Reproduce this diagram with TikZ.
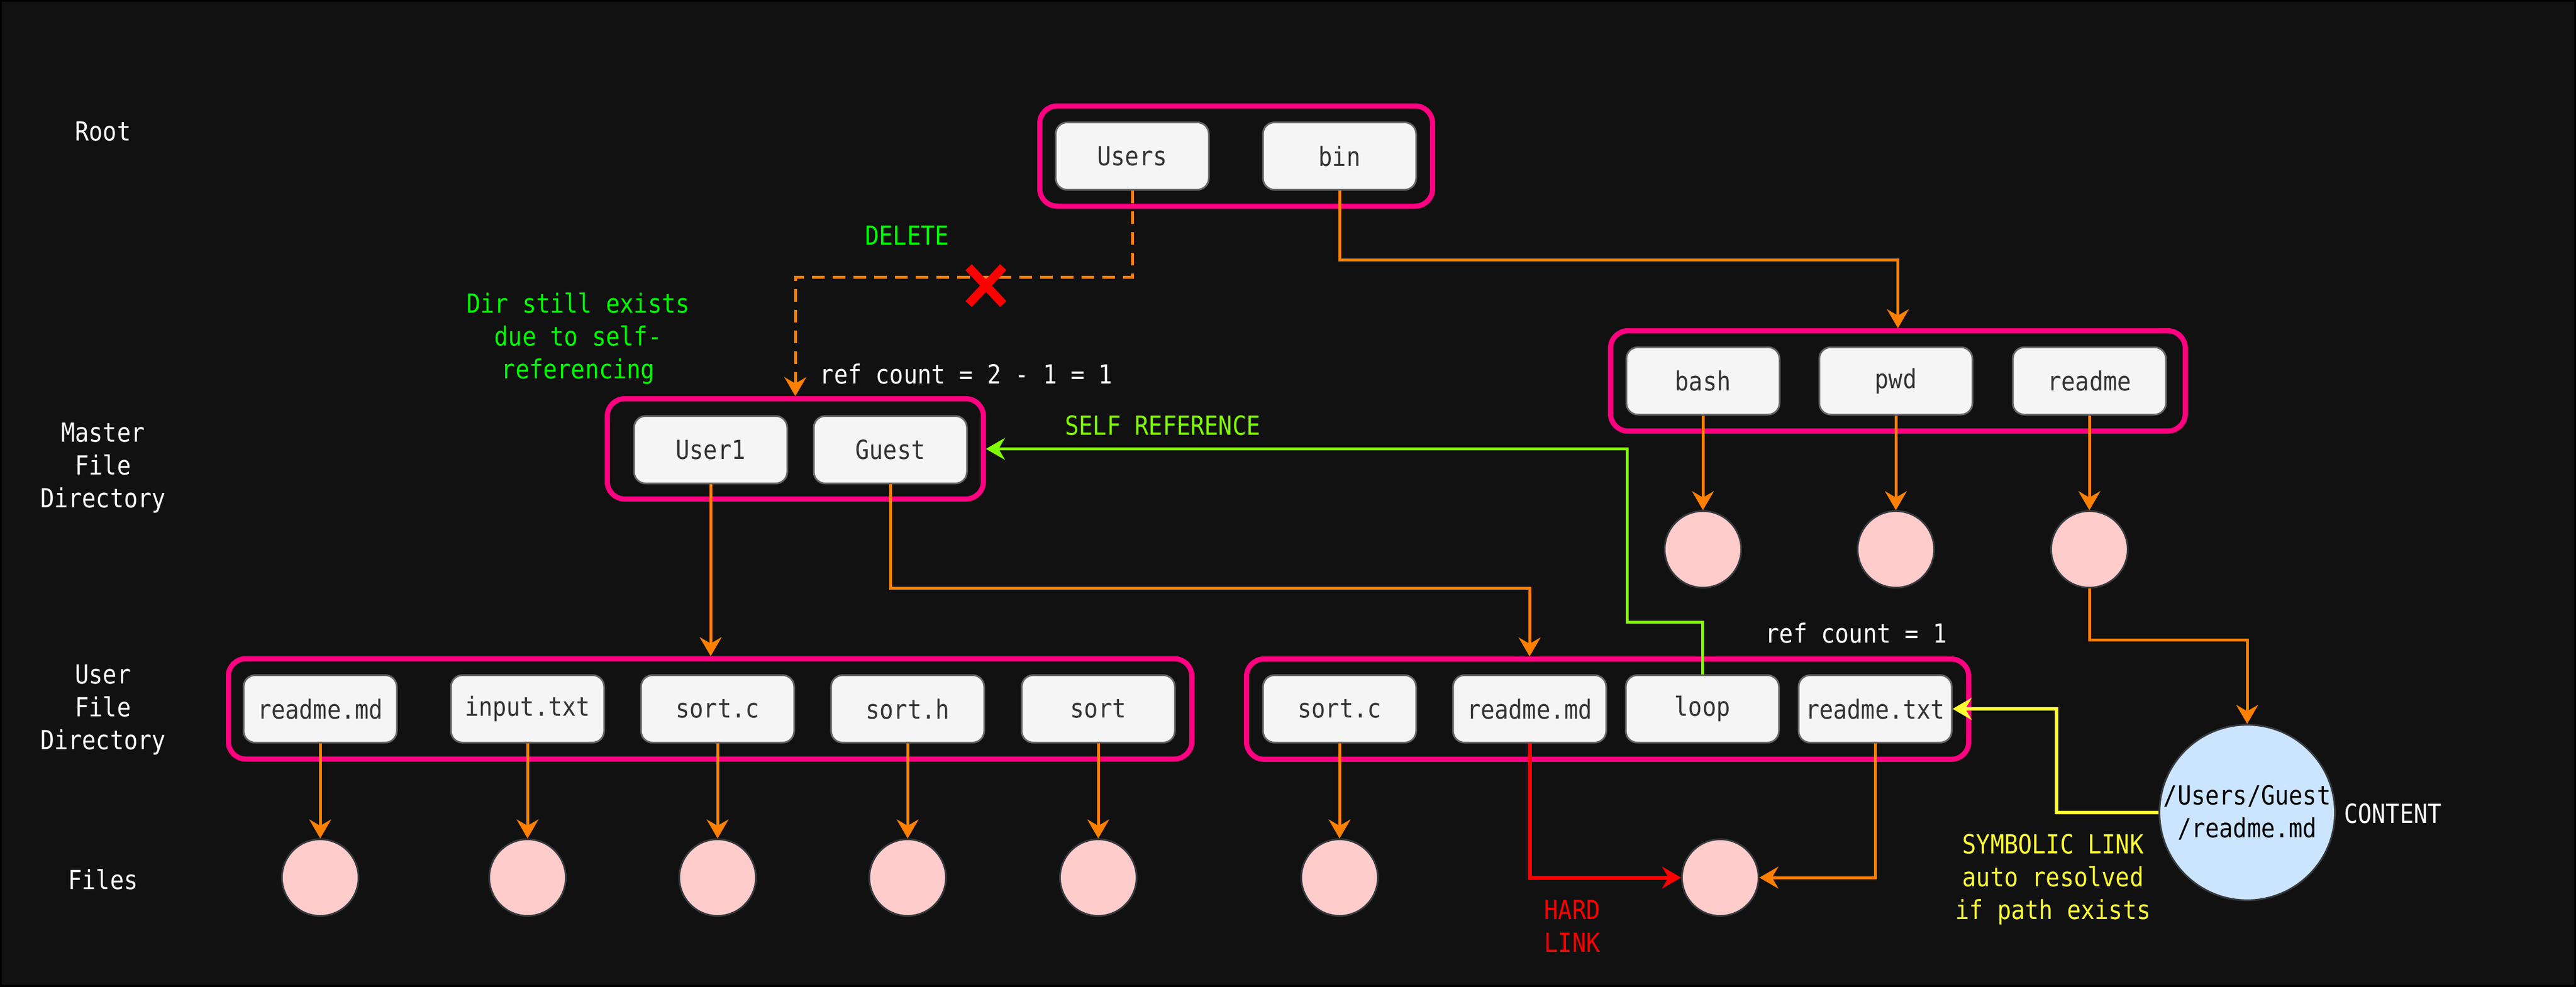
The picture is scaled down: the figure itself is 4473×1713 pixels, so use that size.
\documentclass[tikz,border=0pt]{standalone}
\usepackage{fontspec}
\newfontfamily\monofont[FakeStretch=0.88]{DejaVu Sans Mono}
\usetikzlibrary{arrows.meta,shapes.geometric}
\definecolor{bg}{HTML}{111111}
\definecolor{pinkc}{HTML}{FF0080}
\definecolor{boxfill}{HTML}{F5F5F5}
\definecolor{boxline}{HTML}{666666}
\definecolor{boxtext}{HTML}{333333}
\definecolor{orangec}{HTML}{FF8000}
\definecolor{filefill}{HTML}{FFCCCC}
\definecolor{fileline}{HTML}{36393D}
\definecolor{contentfill}{HTML}{CCE5FF}
\definecolor{greenA}{HTML}{00FF00}
\definecolor{greenB}{HTML}{80FF00}
\definecolor{yellowc}{HTML}{FFFF33}
\definecolor{redc}{HTML}{FF0000}
\begin{document}
\begin{tikzpicture}[x=0.1mm,y=-0.1mm,
  font=\monofont\fontsize{13}{16.2}\selectfont,
  container/.style={draw=pinkc, line width=0.9mm, rounded corners=3mm, minimum width=#1, minimum height=17.4mm, inner sep=0},
  fbox/.style={draw=boxline, fill=boxfill, text=boxtext, line width=0.3mm, rounded corners=2mm, minimum width=26.6mm, minimum height=11.7mm, inner sep=0},
  file/.style={circle, draw=fileline, fill=filefill, line width=0.3mm, minimum size=13.3mm, inner sep=0},
  lbl/.style={text=white, align=center, inner sep=0},
  tipA/.style={-{Stealth[length=3.3mm,width=3.8mm,inset=1.1mm]}},
  oarr/.style={draw=orangec, line width=0.5mm, tipA},
  odash/.style={oarr, dash pattern=on 2.2mm off 1.4mm},
  garr/.style={draw=greenB, line width=0.5mm, tipA},
  rarr/.style={draw=redc, line width=0.7mm, tipA},
  yarr/.style={draw=yellowc, line width=0.6mm, tipA},
]
\useasboundingbox (0,0) rectangle (4473,1713);
\fill[bg] (0,0) rectangle (4473,1713);
\draw[black, line width=0.6mm] (0,0) rectangle (4473,1713);

% row labels
\node[lbl] (lroot) at (179,228) {Root};
\node[lbl] (lmaster) at (179,813) {Master\\File\\Directory};
\node[lbl] (luser) at (179,1233) {User\\File\\Directory};
\node[lbl] (lfiles) at (179,1527) {Files};

% root
\node[container=68.2mm] (rootc) at (2146.5,271) {};
\node[fbox] (users) at (1966,271) {Users};
\node[fbox] (bin) at (2326,271) {bin};

% bin dir
\node[container=99.8mm] (binc) at (3295.5,661.5) {};
\node[fbox] (bash) at (2957,661.5) {bash};
\node[fbox] (pwd) at (3292,661.5) {pwd};
\node[fbox] (readme) at (3628,661.5) {readme};
\node[file] (fbash) at (2957,954) {};
\node[file] (fpwd) at (3292,954) {};
\node[file] (freadme) at (3628,954) {};

% content
\node[circle, draw=fileline, fill=contentfill, line width=0.3mm, minimum size=30mm, inner sep=0, text=black, align=center] (content) at (3902,1411) {/Users/Guest\\/readme.md};
\node[lbl] (lcontent) at (4155,1413) {CONTENT};

% master
\node[container=65.3mm] (masterc) at (1381,779.5) {};
\node[fbox] (user1) at (1234,781) {User1};
\node[fbox] (guest) at (1546,781) {Guest};

% user dir 1
\node[container=167.3mm] (ud1) at (1233,1231) {};
\node[fbox] (rmd1) at (556,1231) {readme.md};
\node[fbox] (inp) at (916,1231) {input.txt};
\node[fbox] (sc1) at (1246,1231) {sort.c};
\node[fbox] (sh) at (1576,1231) {sort.h};
\node[fbox] (srt) at (1907,1231) {sort};

% user dir 2
\node[container=125.4mm] (ud2) at (2791.5,1231.5) {};
\node[fbox] (sc2) at (2326,1231) {sort.c};
\node[fbox] (rmd2) at (2656,1231) {readme.md};
\node[fbox] (loop) at (2956,1231) {loop};
\node[fbox] (rtxt) at (3256,1231) {readme.txt};

% files
\node[file] (f1) at (556,1524) {};
\node[file] (f2) at (916,1524) {};
\node[file] (f3) at (1246,1524) {};
\node[file] (f4) at (1576,1524) {};
\node[file] (f5) at (1907,1524) {};
\node[file] (f6) at (2326,1524) {};
\node[file] (hc) at (2987,1524) {};

% annotations
\node[text=greenA, inner sep=0] (ldel) at (1575,409) {DELETE};
\node[text=greenA, align=center, inner sep=0] (ldir) at (1004,588) {Dir still exists\\due to self-\\referencing};
\node[lbl] (lref1) at (1678,649) {ref count = 2 - 1 = 1};
\node[text=greenB, inner sep=0] (lself) at (2019,739) {SELF REFERENCE};
\node[lbl] (lref2) at (3223,1099) {ref count = 1};
\node[text=redc, align=left, inner sep=0] (lhard) at (2730,1608) {HARD\\LINK};
\node[text=yellowc, align=center, inner sep=0] (lsym) at (3565,1527) {SYMBOLIC LINK\\auto resolved\\if path exists};

% connectors
\coordinate (delbend) at (1966,481);
\draw[odash] (users.south) -- (delbend) -| (masterc.north);
\coordinate (binbend) at (2326,451);
\draw[oarr] (bin.south) -- (binbend) -| (binc.north);
\draw[oarr] (bash.south) -- (fbash.north);
\draw[oarr] (pwd.south) -- (fpwd.north);
\draw[oarr] (readme.south) -- (freadme.north);
\coordinate (rbend) at (3628,1111);
\draw[oarr] (freadme.south) -- (rbend) -| (content.north);
\draw[oarr] (user1.south) -- (user1.south |- ud1.north);
\coordinate (gbend) at (1546,1021);
\draw[oarr] (guest.south) -- (gbend) -| (rmd2.north |- ud2.north);
\coordinate (lb1) at (2956,1080);
\coordinate (lb2) at (2825,1080);
\draw[garr] (loop.north) -- (lb1) -- (lb2) |- (masterc.east);
\draw[oarr] (rmd1.south) -- (f1.north);
\draw[oarr] (inp.south) -- (f2.north);
\draw[oarr] (sc1.south) -- (f3.north);
\draw[oarr] (sh.south) -- (f4.north);
\draw[oarr] (srt.south) -- (f5.north);
\draw[oarr] (sc2.south) -- (f6.north);
\draw[rarr] (rmd2.south) |- (hc.west);
\draw[oarr] (rtxt.south) |- (hc.east);
\coordinate (sb) at (3571,1411);
\draw[yarr] (content.west) -- (sb) |- (rtxt.east);

% red cross
\coordinate (xm) at (1712,496);
\draw[redc, line width=1.5mm] ([shift={(-30,-32)}]xm) -- ([shift={(30,32)}]xm) ([shift={(30,-32)}]xm) -- ([shift={(-30,32)}]xm);
\end{tikzpicture}
\end{document}
